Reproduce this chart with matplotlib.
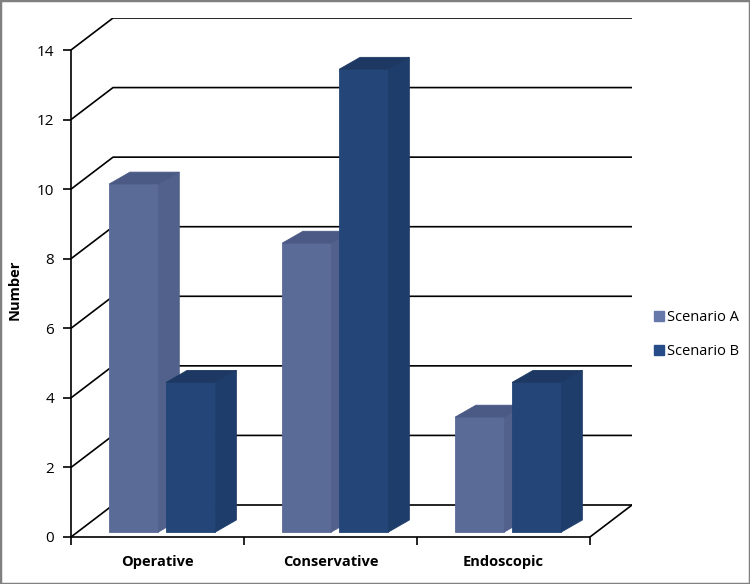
import matplotlib.pyplot as plt
from matplotlib.patches import Polygon, Patch, Rectangle

plt.rcParams['font.family'] = ['Open Sans', 'DejaVu Sans']

# data
categories = ['Operative', 'Conservative', 'Endoscopic']
series_names = ['Scenario A', 'Scenario B']
scenario_a = [10.0, 8.3, 3.3]
scenario_b = [4.3, 13.3, 4.3]
y_ticks = [0, 2, 4, 6, 8, 10, 12, 14]

# colours: front, side, top, legend
col_a = ['#5b6b98', '#52618c', '#4b5a85', '#6677aa']
col_b = ['#234578', '#1f3d6b', '#1d3963', '#264d8a']

# oblique depth of the walls and bars (data units)
DX, DY = 0.243, 0.92
BDX, BDY = 0.121, 0.345
BASE = 0.144
W = 0.285
A_OFF, B_OFF = 0.22, 0.55

fig = plt.figure(figsize=(7.5, 5.84), dpi=100)
ax = fig.add_axes([71/750, 47/584, 561/750, 519/584])
ax.set_xlim(0, 3 + DX)
ax.set_ylim(0, 14 + DY)

# walls / gridlines
for v in y_ticks:
    ax.plot([0, DX, 3 + DX], [v, v + DY, v + DY], color='black', lw=1.2, zorder=1)
ax.plot([3, 3 + DX], [0, DY], color='black', lw=1.2, zorder=1)


def bar3d(x, h, cols):
    y0, y1 = BASE, BASE + h
    ax.bar(x, h, bottom=y0, width=W, align='edge', color=cols[0],
           edgecolor=cols[0], lw=0.6, zorder=3)
    side = [(x + W, y0), (x + W + BDX, y0 + BDY), (x + W + BDX, y1 + BDY), (x + W, y1)]
    top = [(x, y1), (x + BDX, y1 + BDY), (x + W + BDX, y1 + BDY), (x + W, y1)]
    ax.add_patch(Polygon(side, closed=True, fc=cols[1], ec=cols[1], lw=0.6, zorder=3))
    ax.add_patch(Polygon(top, closed=True, fc=cols[2], ec=cols[2], lw=0.6, zorder=3))


for i in range(len(categories)):
    bar3d(i + A_OFF, scenario_a[i], col_a)
    bar3d(i + B_OFF, scenario_b[i], col_b)

for s in ['top', 'right']:
    ax.spines[s].set_visible(False)
ax.spines['left'].set_bounds(0, 14)
ax.spines['bottom'].set_bounds(0, 3)
for s in ['left', 'bottom']:
    ax.spines[s].set_linewidth(1.2)
    ax.spines[s].set_zorder(5)

ax.set_yticks(y_ticks)
ax.set_yticklabels([str(t) for t in y_ticks], fontsize=11)
ax.tick_params(axis='y', direction='out', length=6, width=1.2, pad=6)
ax.set_xticks([0, 1, 2, 3])
ax.set_xticklabels([])
ax.set_xticks([0.5, 1.5, 2.5], minor=True)
ax.set_xticklabels(categories, minor=True, fontsize=10.5, fontweight='bold')
ax.tick_params(axis='x', which='major', direction='out', length=6, width=1.2)
ax.tick_params(axis='x', which='minor', length=0, pad=13)

fig.text(15/750, 1 - 290/584, 'Number', rotation=90, ha='center', va='center',
         fontsize=10.5, fontweight='bold')

handles = [Patch(color=col_a[3]), Patch(color=col_b[3])]
fig.legend(handles, series_names, loc='upper left', bbox_to_anchor=(641/750, 1 - 297/584),
           frameon=False, fontsize=10.5, handlelength=0.65, handleheight=0.65,
           handletextpad=0.25, labelspacing=1.3)

fig.add_artist(Rectangle((0, 0), 1, 1, transform=fig.transFigure, fill=False,
                         edgecolor='#808080', lw=2.5))

fig.savefig('out.png', dpi=100)
